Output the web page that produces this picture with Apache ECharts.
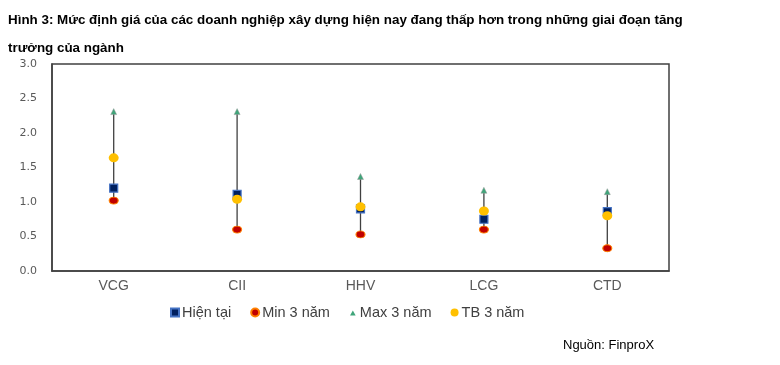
<!DOCTYPE html>
<html><head><meta charset="utf-8">
<script src="https://cdn.jsdelivr.net/npm/echarts@6/dist/echarts.min.js"></script>
<style>html,body{margin:0;padding:0;background:#fff}#c{width:780px;height:365px}</style>
</head><body><div id="c"></div>
<script>
var categories = ['VCG', 'CII', 'HHV', 'LCG', 'CTD'];
var current = [1.20, 1.11, 0.90, 0.75, 0.86];
var min3 = [1.02, 0.60, 0.53, 0.60, 0.33];
var max3 = [2.31, 2.31, 1.37, 1.17, 1.15];
var avg3 = [1.64, 1.04, 0.93, 0.87, 0.80];
var yTicks = [0, 0.5, 1.0, 1.5, 2.0, 2.5, 3.0];
var seriesNames = ['Hiện tại', 'Min 3 năm', 'Max 3 năm', 'TB 3 năm'];

var chart = echarts.init(document.getElementById('c'));
var font = 'Liberation Sans, Arial, sans-serif';
chart.setOption({
  animation: false,
  title: {
    text: 'Hình 3: Mức định giá của các doanh nghiệp xây dựng hiện nay đang thấp hơn trong những giai đoạn tăng\ntrưởng của ngành',
    left: 8, top: 6, padding: 0,
    textStyle: {fontFamily: font, fontSize: 13.4, fontWeight: 'bold', color: '#000', lineHeight: 28}
  },
  grid: {left: 52, right: 111, top: 64, bottom: 94, show: true, borderColor: '#404040', borderWidth: 1.5},
  xAxis: {
    type: 'category', data: categories, boundaryGap: true,
    axisTick: {show: false},
    axisLine: {lineStyle: {color: '#404040', width: 1.5}},
    axisLabel: {fontFamily: font, fontSize: 14, color: '#595959', margin: 8}
  },
  yAxis: {
    type: 'value', min: yTicks[0], max: yTicks[yTicks.length - 1], interval: 0.5,
    splitLine: {show: false},
    axisTick: {show: false},
    axisLine: {show: true, lineStyle: {color: '#404040', width: 1.5}},
    axisLabel: {fontFamily: 'DejaVu Sans, sans-serif', fontSize: 11, color: '#595959', margin: 15, formatter: function (v) { return v.toFixed(1); }}
  },
  legend: {
    left: 170, top: 305, padding: 0, itemWidth: 8, itemHeight: 8, itemGap: 19,
    textStyle: {fontFamily: font, fontSize: 14.5, lineHeight: 14, color: '#404040', padding: [0, 0, 0, -2]},
    data: [
      {name: seriesNames[0], icon: 'rect'},
      {name: seriesNames[1], icon: 'circle'},
      {name: seriesNames[2], icon: 'path://M0,0M8,8M4,2L6.8,7L1.2,7Z', itemStyle: {color: '#3FA57A', borderWidth: 0}},
      {name: seriesNames[3], icon: 'circle'}
    ]
  },
  graphic: [{
    type: 'text', left: 563, top: 339,
    style: {text: 'Nguồn: FinproX', font: '13px Liberation Sans, Arial, sans-serif', fill: '#000'}
  }],
  series: [
    {
      type: 'custom', name: 'range', z: 1, silent: true,
      data: categories.map(function (c, i) { return [i, min3[i], max3[i]]; }),
      encode: {x: 0, y: [1, 2]},
      renderItem: function (params, api) {
        var p1 = api.coord([api.value(0), api.value(1)]);
        var p2 = api.coord([api.value(0), api.value(2)]);
        return {type: 'line', shape: {x1: p1[0], y1: p1[1], x2: p2[0], y2: p2[1]}, style: {stroke: '#404040', lineWidth: 1.3}};
      }
    },
    {
      type: 'scatter', name: seriesNames[1], data: min3, z: 3,
      symbol: 'circle', symbolSize: [9, 7],
      itemStyle: {color: '#C00000', borderColor: '#FF8000', borderWidth: 1, opacity: 1}
    },
    {
      type: 'scatter', name: seriesNames[2], data: max3, z: 3,
      symbol: 'triangle', symbolSize: [6, 6],
      itemStyle: {color: '#3FA57A', borderColor: '#9a9a9a', borderWidth: 0.5, opacity: 1}
    },
    {
      type: 'scatter', name: seriesNames[0], data: current, z: 4,
      symbol: 'rect', symbolSize: 8,
      itemStyle: {color: '#002060', borderColor: '#4472C4', borderWidth: 1.2, opacity: 1}
    },
    {
      type: 'scatter', name: seriesNames[3], data: avg3, z: 5,
      symbol: 'circle', symbolSize: [10, 9],
      itemStyle: {color: '#FFC000', opacity: 1}
    }
  ]
});
</script></body></html>
